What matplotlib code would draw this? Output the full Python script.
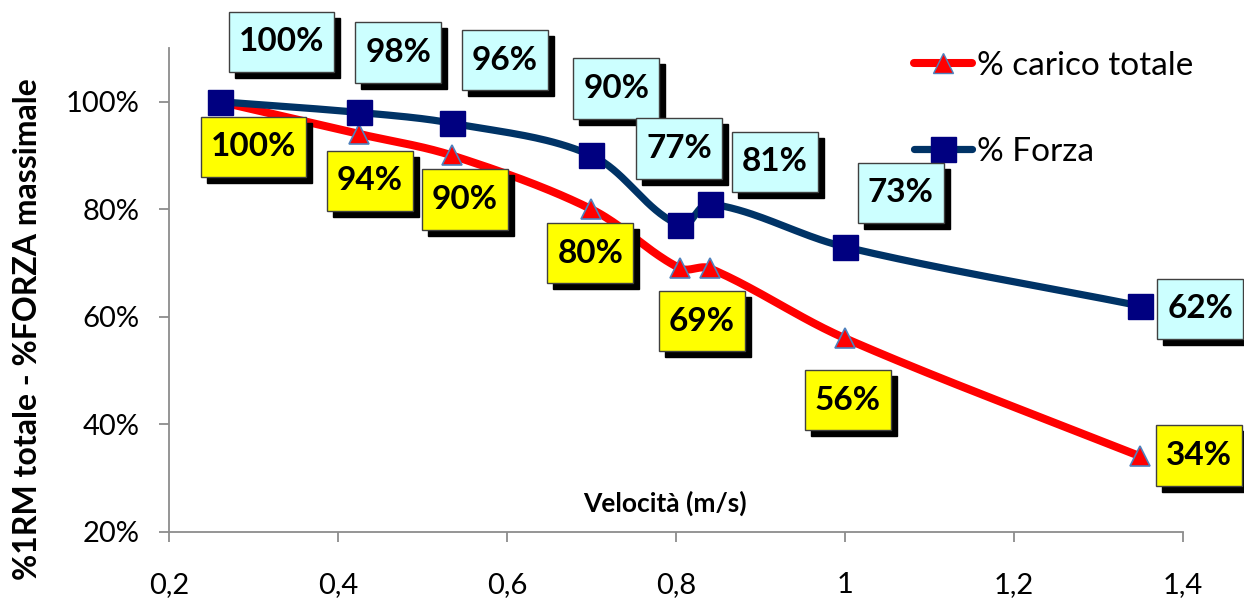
import numpy as np
import matplotlib
matplotlib.use("Agg")
import matplotlib.pyplot as plt
from matplotlib.path import Path
from matplotlib.ticker import FuncFormatter

plt.rcParams['font.family'] = ['Lato', 'DejaVu Sans']

# Velocity (m/s) of each test
velocita = [0.26, 0.425, 0.535, 0.70, 0.805, 0.84, 1.00, 1.35]
# % of total 1RM load
carico = [100, 94, 90, 80, 69, 69, 56, 34]
# % of maximal force
forza = [100, 98, 96, 90, 77, 81, 73, 62]

serie_carico = "% carico totale"
serie_forza = "% Forza"
titolo_x = "Velocità (m/s)"
titolo_y = "%1RM totale - %FORZA massimale"

# Label offsets from each point, in pixels (None = no label)
off_forza = [(62, 60), (39, 60), (53, 63), (25, 67), (-1, 77), (65, 42), (56, 54), (60, -3)]
off_carico = [(34, -45), (11, -47), (13, -44), (-1, -44), None, (-8, -53), (3, -62), (59, 1)]

XMIN, XMAX, YMIN, YMAX = 0.2, 1.4, 20, 110


def smooth(x, y, n=40):
    """Bezier smoothing through the points; tangent arms scale with the
    on-screen length of each segment so short segments do not overshoot."""
    sx, sy = 1013.7 / (XMAX - XMIN), 483.7 / (YMAX - YMIN)  # screen scale
    p = np.column_stack([np.asarray(x) * sx, np.asarray(y) * sy]).astype(float)
    m = len(p)
    tang = np.zeros_like(p)
    for i in range(m):
        a = p[max(i - 1, 0)]
        b = p[min(i + 1, m - 1)]
        d = b - a
        tang[i] = d / np.hypot(*d)
    t = np.linspace(0, 1, n)[:, None]
    out = []
    for i in range(m - 1):
        p1, p2 = p[i], p[i + 1]
        L = np.hypot(*(p2 - p1))
        c1 = p1 + tang[i] * L / 3.0
        c2 = p2 - tang[i + 1] * L / 3.0
        seg = ((1 - t) ** 3) * p1 + 3 * ((1 - t) ** 2) * t * c1 \
            + 3 * (1 - t) * t ** 2 * c2 + t ** 3 * p2
        out.append(seg if i == 0 else seg[1:])
    s = np.vstack(out)
    return s[:, 0] / sx, s[:, 1] / sy


def label_box(x0, y0, width, height, mutation_size):
    """Rectangle with separate horizontal / vertical padding."""
    px = 0.30 * mutation_size
    py = 0.47 * mutation_size
    x0, y0 = x0 - px, y0 - py
    x1, y1 = x0 + width + 2 * px, y0 + height + 2 * py
    return Path([(x0, y0), (x1, y0), (x1, y1), (x0, y1), (x0, y0)], closed=True)


fig = plt.figure(figsize=(12.44, 5.99), dpi=100)
ax = fig.add_axes([0.1359, 0.1124, 0.9507 - 0.1359, 0.9199 - 0.1124])

red = "#FF0000"
navy_line = "#003366"
navy_marker = "#000080"
tri_edge = "#4F81BD"

xs, ys = smooth(velocita, carico)
ax.plot(xs, ys, color=red, lw=5.8, solid_capstyle='round', zorder=3)
ax.plot(velocita, carico, ls='none', marker='^', ms=15, mfc=red,
        mec=tri_edge, mew=1.2, zorder=4)

xf, yf = smooth(velocita, forza)
ax.plot(xf, yf, color=navy_line, lw=5.2, solid_capstyle='round', zorder=5)
ax.plot(velocita, forza, ls='none', marker='s', ms=18, mfc=navy_marker,
        mec=navy_marker, zorder=6)

# legend proxies
ax.plot([], [], color=red, lw=5.8, marker='^', ms=15, mfc=red, mec=tri_edge,
        solid_capstyle='round', label=serie_carico)
ax.plot([], [], color=navy_line, lw=5.2, marker='s', ms=18, mfc=navy_marker,
        mec=navy_marker, solid_capstyle='round', label=serie_forza)


def label(x, y, off, fc):
    txt = f"{y:.0f}%"
    style = dict(ha='center', va='center', fontsize=24, fontweight='bold',
                 textcoords='offset pixels', annotation_clip=False)
    # drop shadow
    ax.annotate(txt, xy=(x, y), xytext=(off[0] + 6, off[1] - 6), color='black',
                bbox=dict(boxstyle=label_box, fc='black', ec='black', lw=1),
                zorder=9, **style)
    ax.annotate(txt, xy=(x, y), xytext=off, color='black',
                bbox=dict(boxstyle=label_box, fc=fc, ec='#404040', lw=1),
                zorder=10, **style)


for x, y, off in zip(velocita, forza, off_forza):
    if off is not None:
        label(x, y, off, "#CCFFFF")
for x, y, off in zip(velocita, carico, off_carico):
    if off is not None:
        label(x, y, off, "#FFFF00")

ax.set_xlim(XMIN, XMAX)
ax.set_ylim(YMIN, YMAX)
ax.set_xticks(np.arange(0.2, 1.41, 0.2))
ax.set_yticks([20, 40, 60, 80, 100])
ax.xaxis.set_major_formatter(
    FuncFormatter(lambda v, p: f"{v:.1f}".rstrip('0').rstrip('.').replace('.', ',')))
ax.yaxis.set_major_formatter(FuncFormatter(lambda v, p: f"{v:.0f}%"))

for s in ('top', 'right'):
    ax.spines[s].set_visible(False)
for s in ('left', 'bottom'):
    ax.spines[s].set_color('#8C8C8C')
    ax.spines[s].set_linewidth(1.3)
ax.tick_params(axis='both', colors='#8C8C8C', length=7, width=1.3, labelcolor='black',
               labelsize=21)
ax.tick_params(axis='x', pad=22)
ax.tick_params(axis='y', pad=14)

ax.set_xlabel(titolo_x, fontsize=19, fontweight='bold', va='center')
ax.xaxis.set_label_coords(0.489, 0.059)
ax.set_ylabel(titolo_y, fontsize=23, fontweight='bold', va='center')
ax.yaxis.set_label_coords(-0.140, 0.419)

leg = ax.legend(loc='upper left', bbox_to_anchor=(914 / 1244, 1 - 51 / 599),
                bbox_transform=fig.transFigure, frameon=False, fontsize=24,
                handlelength=1.75, handletextpad=0.15, labelspacing=1.67,
                borderpad=0, borderaxespad=0)

fig.savefig("out.png", dpi=100)
